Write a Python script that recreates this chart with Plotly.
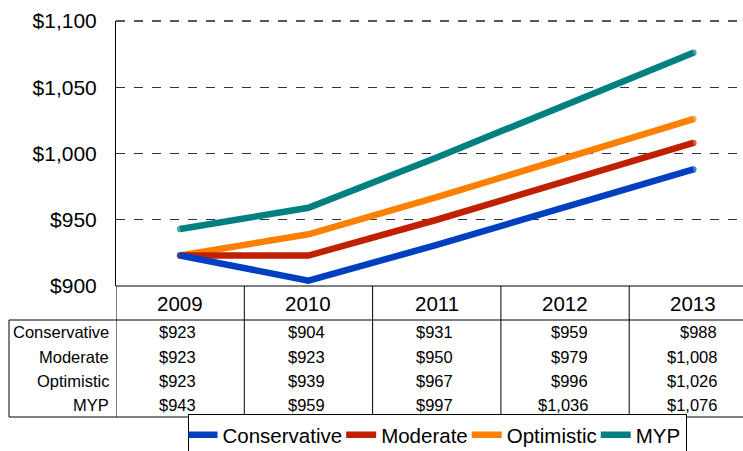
import plotly.graph_objects as go

years = ["2009", "2010", "2011", "2012", "2013"]
series_names = ["Conservative", "Moderate", "Optimistic", "MYP"]
conservative = [923, 904, 931, 959, 988]
moderate = [923, 923, 950, 979, 1008]
optimistic = [923, 939, 967, 996, 1026]
myp = [943, 959, 997, 1036, 1076]
colors = ["#0040C0", "#C02000", "#FF8000", "#008080"]
y_ticks = [900, 950, 1000, 1050, 1100]

series = [conservative, moderate, optimistic, myp]

W, H = 743, 451
L, T, B_PX = 116, 21, 286
PH = B_PX - T
FONT = "Arial, Liberation Sans, sans-serif"
LW = 6.5

def py(Y):
    return (B_PX - Y) / PH

def px_(X):
    return (X - L) / (W - L)

fig = go.Figure()
xs = list(range(len(years)))
end_sizes = [LW] + [0] * (len(years) - 2) + [LW]
# draw in reverse so Conservative ends up on top
for name, vals, col in reversed(list(zip(series_names, series, colors))):
    fig.add_trace(go.Scatter(
        x=xs, y=vals, name=name, mode="lines+markers",
        line=dict(color=col, width=LW),
        marker=dict(color=col, size=end_sizes, line=dict(width=0)),
    ))

shapes = []
# table vertical lines (category boundaries)
for i in range(len(years) + 1):
    shapes.append(dict(type="line", xref="x", yref="paper",
                       x0=i - 0.5, x1=i - 0.5, y0=0, y1=py(417),
                       line=dict(color="black", width=1)))
# horizontal table lines
for Y in (320, 417):
    shapes.append(dict(type="line", xref="paper", yref="paper",
                       x0=px_(9), x1=1.0, y0=py(Y), y1=py(Y),
                       line=dict(color="black", width=1)))
shapes.append(dict(type="line", xref="paper", yref="paper",
                   x0=px_(9), x1=px_(9), y0=py(320), y1=py(417),
                   line=dict(color="black", width=1)))
# bottom axis line
shapes.append(dict(type="line", xref="paper", yref="paper",
                   x0=0, x1=1, y0=0, y1=0, line=dict(color="black", width=1)))
# top dashed border
shapes.append(dict(type="line", xref="paper", yref="paper",
                   x0=0, x1=1, y0=1, y1=1,
                   line=dict(color="#222222", width=1.3, dash="dash")))

annotations = []
for i, yr in enumerate(years):
    annotations.append(dict(x=i, y=py(303), xref="x", yref="paper", text=yr,
                            showarrow=False, xanchor="center", yanchor="middle",
                            font=dict(size=20.5, color="black", family=FONT)))

row_y = [332.3, 356.7, 381.0, 405.3]

def fmt(v):
    return "${:,}".format(v)

def est_w(s, fs=16.5):
    w = 0
    for ch in s:
        w += 0.278 if ch == "," else 0.556
    return w * fs

for r, (name, vals) in enumerate(zip(series_names, series)):
    annotations.append(dict(x=0, y=py(row_y[r]), xref="paper", yref="paper",
                            text=name, showarrow=False, xanchor="right",
                            yanchor="middle", xshift=-5,
                            font=dict(size=16.5, color="black", family=FONT)))
for i in range(len(years)):
    col_strs = [fmt(s[i]) for s in series]
    half = max(est_w(s) for s in col_strs) / 2
    for r, s in enumerate(col_strs):
        annotations.append(dict(x=i, y=py(row_y[r]), xref="x", yref="paper",
                                text=s, showarrow=False, xanchor="right",
                                yanchor="middle", xshift=half,
                                font=dict(size=16.5, color="black", family=FONT)))

fig.update_layout(
    width=W, height=H,
    margin=dict(l=L, r=0, t=T, b=H - B_PX, pad=0, autoexpand=False),
    paper_bgcolor="white", plot_bgcolor="white",
    font=dict(family=FONT, color="black"),
    showlegend=True,
    legend=dict(orientation="h", x=px_(437), xanchor="center",
                y=py(421), yanchor="top", traceorder="reversed",
                bordercolor="black", borderwidth=1,
                font=dict(size=20.5, color="black", family=FONT),
                itemwidth=30, tracegroupgap=0, bgcolor="white",
                indentation=-6),
    xaxis=dict(range=[-0.5, -0.5 + (W - L) / 128.3], showticklabels=False,
               showgrid=False, zeroline=False, showline=False, fixedrange=True),
    yaxis=dict(range=[900, 1100], tickvals=y_ticks,
               ticktext=[fmt(v) for v in y_ticks],
               showgrid=True, gridcolor="#333333", griddash="dash", gridwidth=1,
               zeroline=False, showline=True, linecolor="black", linewidth=1,
               ticks="", ticklabelstandoff=14,
               tickfont=dict(size=21, color="black", family=FONT)),
    shapes=shapes, annotations=annotations,
)
# pull legend text up a little so it sits like the reference
fig.update_layout(legend_valign="top", legend_y=py(414))

fig.write_html("out.html")
